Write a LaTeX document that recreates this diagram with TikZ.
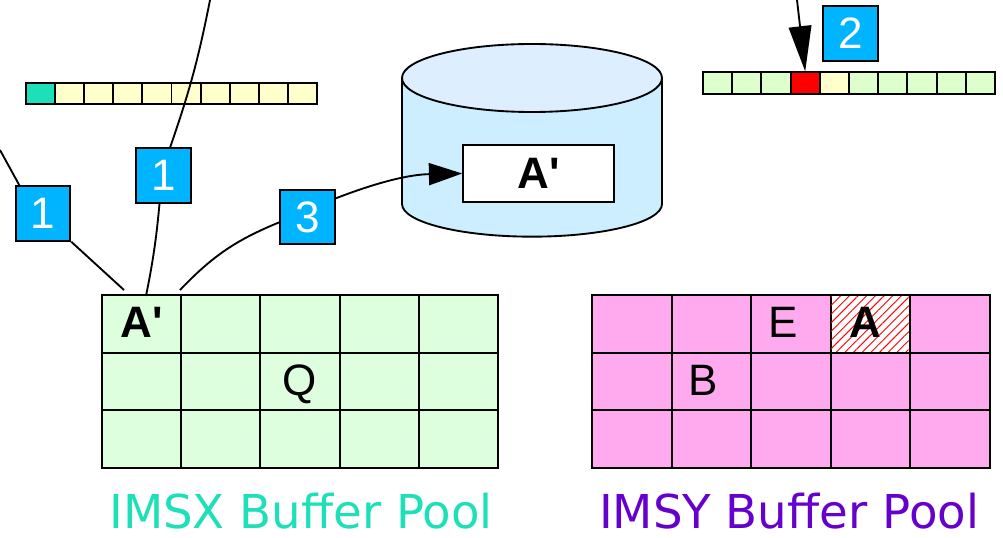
\documentclass[tikz,border=0pt]{standalone}
\usepackage{fontspec}
\setmainfont{Liberation Sans}
\newfontfamily\titlefont{DejaVu Sans}
\usetikzlibrary{arrows.meta,patterns.meta}
\definecolor{badgec}{HTML}{00B4FF}
\definecolor{tealc}{HTML}{1EE0B8}
\definecolor{paley}{HTML}{FFFFCC}
\definecolor{paleg}{HTML}{DDFFCC}
\definecolor{gridg}{HTML}{DDFFDD}
\definecolor{pinkc}{HTML}{FFAAEE}
\definecolor{purpc}{HTML}{6600CC}
\definecolor{cyltop}{HTML}{DDEEFF}
\definecolor{cylside}{HTML}{CCEEFF}
\begin{document}
\begin{tikzpicture}[x=0.75pt,y=-0.75pt,line width=1.4pt,
  badgebox/.style={draw,fill=badgec,text=white,minimum width=41pt,minimum height=41pt,inner sep=0pt,font=\fontsize{33}{33}\selectfont},
  barcell/.style={draw,minimum width=21.85pt,minimum height=16pt,inner sep=0pt},
  xcell/.style={draw,fill=gridg,minimum width=59.4pt,minimum height=43.25pt,inner sep=0pt},
  ycell/.style={draw,fill=pinkc,minimum width=59.7pt,minimum height=43.25pt,inner sep=0pt},
  celltext/.style={font=\fontsize{33}{33}\selectfont,inner sep=0pt},
  boldtext/.style={font=\fontsize{33}{33}\selectfont\bfseries,inner sep=0pt},
  pooltitle/.style={font=\titlefont\fontsize{35}{35}\selectfont,inner sep=0pt,anchor=base}
]
\useasboundingbox (0,0) rectangle (1003,538);
% left bar
\foreach \i in {1,...,10}{
  \pgfmathsetmacro\cx{26+29.1*(\i-0.5)}
  \ifnum\i=1
    \node[barcell,fill=tealc] (lb\i) at (\cx,93.5) {};
  \else
    \node[barcell,fill=paley] (lb\i) at (\cx,93.5) {};
  \fi
}
% right bar
\foreach \i in {1,...,10}{
  \pgfmathsetmacro\cx{703+29.2*(\i-0.5)}
  \ifnum\i=4
    \node[barcell,fill=red] (rb\i) at (\cx,83) {};
  \else\ifnum\i=5
    \node[barcell,fill=paley] (rb\i) at (\cx,83) {};
  \else
    \node[barcell,fill=paleg] (rb\i) at (\cx,83) {};
  \fi\fi
}
% cylinder
\filldraw[fill=cylside] (402,78) -- (402,204) arc[start angle=180,end angle=360,x radius=97.5pt,y radius=24.5pt] -- (662,78) -- cycle;
\filldraw[fill=cyltop] (532,78) ellipse[x radius=97.5pt,y radius=25.5pt];
\node[draw,fill=white,minimum width=113pt,minimum height=43pt,inner sep=0pt,font=\fontsize{33}{33}\selectfont\bfseries] (disk) at (538.5,173.5) {A\textquotesingle};
% IMSX pool
\foreach \r in {1,2,3}{
  \foreach \c in {1,...,5}{
    \pgfmathsetmacro\cx{102+79.2*(\c-0.5)}
    \pgfmathsetmacro\cy{295+57.67*(\r-0.5)}
    \node[xcell] (x\r\c) at (\cx,\cy) {};
  }
}
\node[boldtext] (xa) at ([yshift=1pt]x11) {A\textquotesingle};
\node[celltext] (xq) at ([yshift=-2pt]x23) {Q};
% IMSY pool
\foreach \r in {1,2,3}{
  \foreach \c in {1,...,5}{
    \pgfmathsetmacro\cx{592+79.6*(\c-0.5)}
    \pgfmathsetmacro\cy{295+57.67*(\r-0.5)}
    \ifnum\r\c=14
      \node[ycell,fill=white,postaction={pattern={Lines[angle=45,distance=4.6pt,line width=0.7pt]},pattern color=red}] (y\r\c) at (\cx,\cy) {};
    \else
      \node[ycell] (y\r\c) at (\cx,\cy) {};
    \fi
  }
}
\draw (592,295) rectangle (990,468);
\node[celltext] (ye) at ([xshift=-6pt,yshift=1pt]y13) {E};
\node[boldtext] (ya) at ([xshift=-4pt,yshift=1pt]y14) {A};
\node[celltext] (yb) at ([xshift=-6pt,yshift=1pt]y22) {B};
% titles
\node[pooltitle,text=tealc] (tx) at (301,528) {IMSX Buffer Pool};
\node[pooltitle,text=purpc] (ty) at (789,528) {IMSY Buffer Pool};
% badges
\node[badgebox] (b1a) at (43,213.5) {1};
\node[badgebox] (b1b) at (163.5,175.5) {1};
\node[badgebox] (b3) at (307.5,217) {3};
\node[badgebox] (b2) at (850.5,33.5) {2};
% connectors
\coordinate (t1) at (0,150);
\coordinate (t2) at (210,0);
\coordinate (t3) at (797,0);
\coordinate (e1) at (124,290);
\coordinate (e2) at (146,296);
\coordinate (e3) at (180,290);
\draw (t1) -- ([xshift=4pt,yshift=-1pt]b1a.north west);
\draw (b1a.south east) -- (e1);
\draw (t2) to[bend left=4] ([xshift=5pt]b1b.north);
\draw ([xshift=-3pt]b1b.south) to[bend left=3] (e2);
\draw (e3) to[bend left=12] ([yshift=-4pt]b3.west);
\draw[-{Triangle[length=25pt,width=16.5pt]}] ([yshift=14pt]b3.east) to[bend left=10] (disk.west);
\draw[-{Triangle[length=34pt,width=17pt]}] (t3) -- (rb4.north);
\end{tikzpicture}
\end{document}
